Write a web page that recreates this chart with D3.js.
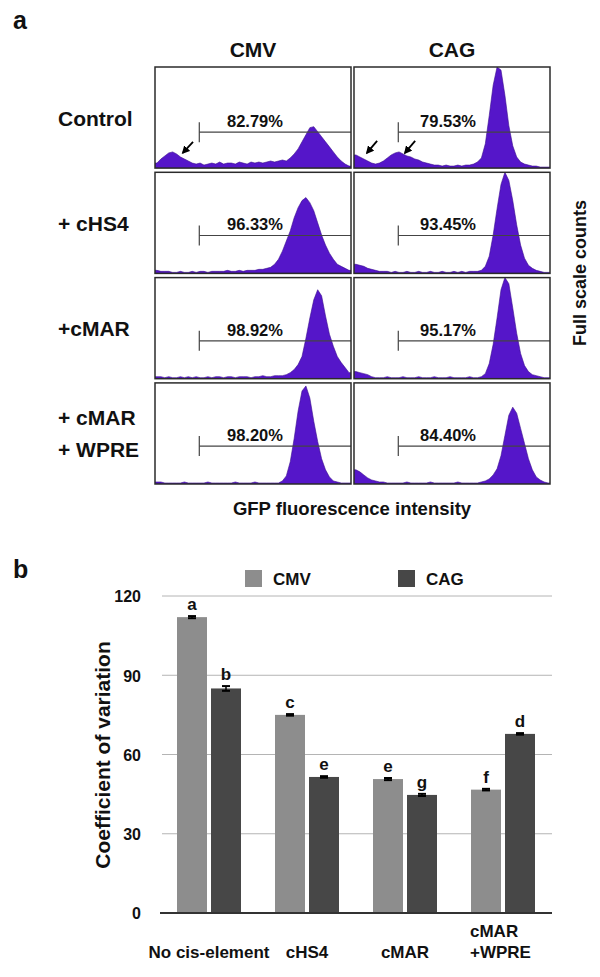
<!DOCTYPE html>
<html><head><meta charset="utf-8">
<script src="https://cdn.jsdelivr.net/npm/d3@7"></script>
<style>
body{margin:0;background:#fff}
svg{display:block}
text{font-family:"Liberation Sans",Arial,Helvetica,sans-serif;font-weight:bold;fill:#111}
</style>
</head><body>
<svg id="c" width="600" height="977"></svg>
<script>
// ---------- Panel a data ----------
const promoters = ["CMV", "CAG"];
const conditions = ["Control", "+ cHS4", "+cMAR", "+ cMAR|+ WPRE"];
const pctCMV = ["82.79%", "96.33%", "98.92%", "98.20%"];
const pctCAG = ["79.53%", "93.45%", "95.17%", "84.40%"];

// histogram counts (% of full scale), 50 fluorescence bins per panel
const cmvControl = [5,9,12,15,16,14,11,9,7,5, 4,5,3,4,5,4,6,4,5,5, 4,6,5,4,6,5,6,5,6,7, 6,7,8,7,10,14,19,26,33,40, 41,36,31,26,21,16,11,7,4,2];
const cmvHS4 = [3,2,2,2,1,1,2,1,1,2, 1,2,2,1,2,2,2,2,3,2, 2,3,2,3,3,3,4,4,5,6, 9,14,22,32,42,55,65,72,75,70, 62,50,38,28,20,14,9,7,5,3];
const cmvMAR = [2,2,1,2,1,1,2,1,2,1, 2,1,1,2,1,2,2,1,2,2, 1,2,2,2,1,2,2,3,2,2, 3,3,3,4,6,9,14,22,40,60, 78,88,82,62,44,32,22,16,11,6];
const cmvWPRE = [2,2,1,1,1,1,1,2,1,1, 1,1,1,2,1,1,1,1,1,1, 2,1,1,1,1,2,1,1,1,1, 1,1,3,8,22,45,72,92,97,85, 62,42,25,14,7,3,2,1,1,1];
const cagControl = [13,11,9,7,5,4,5,7,10,13, 15,16,14,12,11,9,8,6,5,4, 3,3,2,3,2,2,3,2,3,3, 4,6,10,24,52,82,100,97,72,42, 22,11,6,4,3,2,2,1,1,1];
const cagHS4 = [9,8,7,5,4,3,2,2,2,1, 2,1,1,2,1,1,2,1,1,2, 1,1,2,1,1,2,1,2,1,2, 2,2,3,7,17,38,64,88,100,92, 72,48,28,15,8,5,3,2,1,1];
const cagMAR = [7,6,5,4,2,1,1,1,2,1, 1,1,2,1,1,1,2,1,1,1, 2,1,1,1,2,1,1,1,1,2, 1,1,2,5,15,34,60,88,100,94, 70,45,25,13,7,4,3,2,1,1];
const cagWPRE = [14,12,9,6,4,3,2,2,1,1, 1,1,1,2,1,1,1,1,1,2, 1,1,1,1,1,1,2,1,1,1, 1,1,2,3,5,9,15,28,48,68, 76,70,55,40,25,14,7,4,2,1];

const gateStart = 11.3;   // bin where the marker begins
const gateLevel = [35.5, 37.5, 37.5, 37.5];  // marker height per row (% full scale)
// arrows in the control row: [column, tipBin, tipCount, tailBin, tailCount]
const arrows = [["CMV", 7.1, 15, 9.7, 26], ["CAG", 3.3, 15, 5.9, 27], ["CAG", 13, 15, 15.6, 27]];

// ---------- Panel b data ----------
const categories = ["No cis-element", "cHS4", "cMAR", "cMAR|+WPRE"];
const cvCMV = [112, 75, 50.7, 46.7];
const cvCAG = [85, 51.5, 44.7, 67.8];
const errCMV = [0.4, 0.3, 0.4, 0.3];
const errCAG = [0.9, 0.3, 0.4, 0.3];
const lettersCMV = ["a", "c", "e", "f"];
const lettersCAG = ["b", "e", "g", "d"];
const yTicks = [0, 30, 60, 90, 120];

// ---------- drawing ----------
const svg = d3.select("#c");
const purple = "#5516c9";
const hist = { CMV: [cmvControl, cmvHS4, cmvMAR, cmvWPRE], CAG: [cagControl, cagHS4, cagMAR, cagWPRE] };
const pct = { CMV: pctCMV, CAG: pctCAG };

svg.append("text").attr("x", 13).attr("y", 29).attr("font-size", 25).text("a");

const rowY = d3.scaleBand().domain(d3.range(conditions.length)).range([67, 484]).paddingInner(0.04);
const colX = d3.scaleBand().domain(promoters).range([155, 550]).paddingInner(0.015);
const nb = 50;

const defs = svg.append("defs");
defs.append("marker").attr("id", "ah").attr("viewBox", "0 0 10 10").attr("refX", 8).attr("refY", 5)
  .attr("markerWidth", 4.5).attr("markerHeight", 4.5).attr("orient", "auto")
  .append("path").attr("d", "M0,0L10,5L0,10Z").attr("fill", "#000");

promoters.forEach(p => {
  svg.append("text").attr("x", colX(p) + colX.bandwidth() / 2).attr("y", 57)
    .attr("text-anchor", "middle").attr("font-size", 21).text(p);
  conditions.forEach((c, ri) => {
    const x0 = colX(p), w = colX.bandwidth(), y0 = rowY(ri), h = rowY.bandwidth();
    const xs = d3.scaleLinear().domain([0, nb]).range([x0, x0 + w]);
    const ys = d3.scaleLinear().domain([0, 100]).range([y0 + h, y0]);
    const id = "clip" + p + ri;
    defs.append("clipPath").attr("id", id).append("rect").attr("x", x0).attr("y", y0).attr("width", w).attr("height", h);
    const data = hist[p][ri];
    const pts = [[0, data[0]]].concat(data.map((v, i) => [i + 0.5, v])).concat([[nb, data[nb - 1]]]);
    const area = d3.area().x(d => xs(d[0])).y0(ys(0)).y1(d => ys(d[1])).curve(d3.curveLinear);
    svg.append("path").attr("clip-path", `url(#${id})`).attr("d", area(pts))
      .attr("fill", purple).attr("stroke", "#3a0e8e").attr("stroke-width", 0.6);
    // gate marker
    const gy = ys(gateLevel[ri]);
    svg.append("line").attr("x1", xs(gateStart)).attr("x2", x0 + w).attr("y1", gy).attr("y2", gy)
      .attr("stroke", "#444").attr("stroke-width", 1.2);
    svg.append("line").attr("x1", xs(gateStart)).attr("x2", xs(gateStart)).attr("y1", gy - 10).attr("y2", gy + 10)
      .attr("stroke", "#444").attr("stroke-width", 1.2);
    svg.append("text").attr("x", xs(p === "CMV" ? 25.5 : 24)).attr("y", gy - 5)
      .attr("text-anchor", "middle").attr("font-size", 16.5).text(pct[p][ri]);
    if (ri === 0) {
      arrows.filter(a => a[0] === p).forEach(a => {
        svg.append("line").attr("x1", xs(a[3])).attr("y1", ys(a[4])).attr("x2", xs(a[1])).attr("y2", ys(a[2]))
          .attr("stroke", "#000").attr("stroke-width", 1.8).attr("marker-end", "url(#ah)");
      });
    }
    // frame
    svg.append("rect").attr("x", x0).attr("y", y0).attr("width", w).attr("height", h)
      .attr("fill", "none").attr("stroke", "#2b2b2b").attr("stroke-width", 1.5);
  });
});

conditions.forEach((c, ri) => {
  const lines = c.split("|");
  const cy = rowY(ri) + rowY.bandwidth() / 2 + 8;
  const t = svg.append("text").attr("x", 58).attr("font-size", 21);
  lines.forEach((l, k) => {
    t.append("tspan").attr("x", 58).attr("y", cy + (k - (lines.length - 1) / 2) * 32).text(l);
  });
});

svg.append("text").attr("x", 352).attr("y", 515).attr("text-anchor", "middle").attr("font-size", 18.5)
  .text("GFP fluorescence intensity");
svg.append("text").attr("transform", "translate(586,273) rotate(-90)").attr("text-anchor", "middle")
  .attr("font-size", 18).text("Full scale counts");

// ---------- Panel b ----------
svg.append("text").attr("x", 13).attr("y", 578).attr("font-size", 25).text("b");

const y = d3.scaleLinear().domain([0, 120]).range([913, 596]);
const xg = d3.scaleBand().domain(categories).range([160, 552]).paddingInner(0.347).paddingOuter(0.1735);
const xs2 = d3.scaleBand().domain(promoters).range([0, xg.bandwidth()]).paddingInner(0.1176);
const colors = { CMV: "#8d8d8d", CAG: "#474747" };

// gridlines
svg.append("g").selectAll("line").data(yTicks.filter(t => t > 0)).join("line")
  .attr("x1", 162).attr("x2", 552).attr("y1", d => y(d)).attr("y2", d => y(d))
  .attr("stroke", "#b4b4b4").attr("stroke-width", 1);

// y tick labels
const ya = svg.append("g").attr("transform", "translate(141,0)")
  .call(d3.axisLeft(y).tickValues(yTicks).tickSize(0).tickPadding(0));
ya.select(".domain").remove();
ya.selectAll("text").attr("font-size", 16).attr("font-family", "Liberation Sans, Arial, sans-serif")
  .attr("font-weight", "bold").attr("fill", "#111").attr("dy", "0.36em");

const series = [
  { key: "CMV", vals: cvCMV, err: errCMV, let: lettersCMV },
  { key: "CAG", vals: cvCAG, err: errCAG, let: lettersCAG }
];
series.forEach(s => {
  const g = svg.append("g");
  categories.forEach((c, i) => {
    const bx = xg(c) + xs2(s.key), bw = xs2.bandwidth();
    g.append("rect").attr("x", bx).attr("y", y(s.vals[i])).attr("width", bw)
      .attr("height", y(0) - y(s.vals[i])).attr("fill", colors[s.key]);
    const cx = bx + bw / 2, hi = y(s.vals[i] + s.err[i]), lo = y(s.vals[i] - s.err[i]);
    g.append("line").attr("x1", cx).attr("x2", cx).attr("y1", hi).attr("y2", lo).attr("stroke", "#000").attr("stroke-width", 1.5);
    [hi, lo].forEach(yy => g.append("line").attr("x1", cx - 4).attr("x2", cx + 4).attr("y1", yy).attr("y2", yy)
      .attr("stroke", "#000").attr("stroke-width", 2));
    g.append("text").attr("x", cx).attr("y", hi - 6).attr("text-anchor", "middle").attr("font-size", 17).text(s.let[i]);
  });
});

// zero axis line
svg.append("line").attr("x1", 160).attr("x2", 552).attr("y1", y(0)).attr("y2", y(0))
  .attr("stroke", "#333").attr("stroke-width", 2);

// category labels
categories.forEach((c, i) => {
  const lines = c.split("|");
  if (lines.length === 1) {
    svg.append("text").attr("x", xg(c) + xg.bandwidth() / 2).attr("y", 958).attr("text-anchor", "middle")
      .attr("font-size", 17).text(c);
  } else {
    lines.forEach((l, k) => svg.append("text").attr("x", xg(c) - 1).attr("y", 958 - (lines.length - 1 - k) * 21)
      .attr("font-size", 17).text(l));
  }
});

// legend
promoters.forEach((p, i) => {
  const lx = [245, 398][i];
  svg.append("rect").attr("x", lx).attr("y", 570).attr("width", 17).attr("height", 17).attr("fill", colors[p]);
  svg.append("text").attr("x", lx + 28).attr("y", 585).attr("font-size", 17).text(p);
});

// y title
svg.append("text").attr("transform", "translate(110,755) rotate(-90)").attr("text-anchor", "middle")
  .attr("font-size", 21).text("Coefficient of variation");
</script>
</body></html>
